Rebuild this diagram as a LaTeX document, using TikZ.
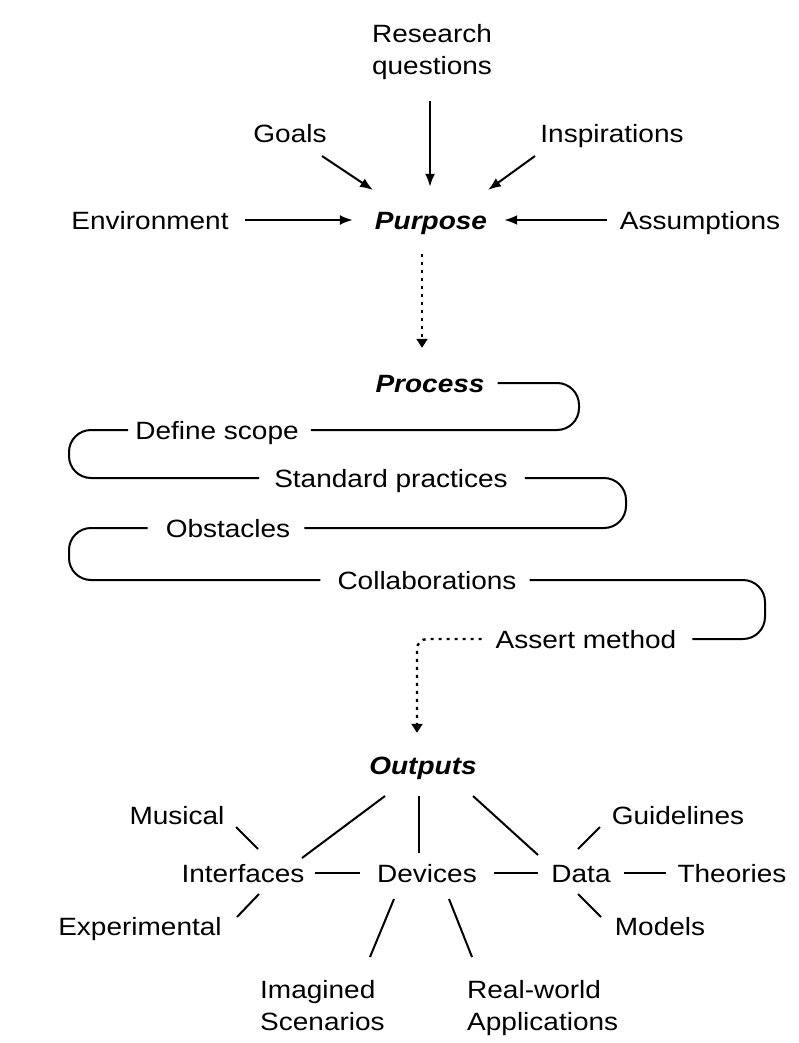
\documentclass[tikz,border=0pt]{standalone}
\usepackage{fontspec}
\setmainfont[FakeStretch=1.12]{Liberation Sans}
\usetikzlibrary{arrows.meta,calc}

\begin{document}
\begin{tikzpicture}[x=1pt,y=-1pt,
  lbl/.style={inner sep=0pt,text height=18pt,text depth=0pt,font=\fontsize{25}{31}\selectfont},
  mlbl/.style={inner sep=0pt,font=\fontsize{25}{32}\selectfont},
  key/.style={lbl,font=\fontsize{25}{31}\selectfont\bfseries\itshape},
  arr/.style={line width=2pt,-{Latex[length=13pt,width=10pt]}},
  dots/.style={line width=2.4pt,dash pattern=on 3pt off 5pt,-{Triangle[length=9pt,width=11pt]}},
  serp/.style={line width=2pt,rounded corners=22pt},
  link/.style={line width=2pt}]
\useasboundingbox (0,0) rectangle (799,1043);

% purpose
\node[mlbl,align=center,anchor=north] (rq) at (432,24) {Research\\questions};
\node[lbl] (goals) at (290,134) {Goals};
\node[lbl] (insp) at (612,134) {Inspirations};
\node[lbl] (env) at (150,220) {Environment};
\node[key] (purpose) at (431,220) {Purpose};
\node[lbl] (assump) at (700,220) {Assumptions};

\draw[arr] ([shift={(-2,21)}]rq.south) -- ([shift={(-1,-24)}]purpose.north);
\draw[arr] ([shift={(32,22)}]goals.center) -- ([shift={(-58,-30)}]purpose.center);
\draw[arr] ([shift={(-77,22)}]insp.center) -- ([shift={(57,-30)}]purpose.center);
\draw[arr] ([shift={(16,0)}]env.east) -- ([shift={(-22,0)}]purpose.west);
\draw[arr] ([shift={(-13,0)}]assump.west) -- ([shift={(17,0)}]purpose.east);

% process
\node[key] (process) at (430,383) {Process};
\node[lbl] (scope) at (217,430) {Define scope};
\node[lbl] (std) at (391,478) {Standard practices};
\node[lbl] (obst) at (228,528) {Obstacles};
\node[lbl] (collab) at (427,580) {Collaborations};
\node[lbl] (assert) at (586,639) {Assert method};

\draw[dots] ([shift={(-9,25)}]purpose.south) -- ([shift={(-8,-26)}]process.north);

\draw[serp] ([shift={(13,0)}]process.east) -| (579,430) -- ([shift={(12,0)}]scope.east);
\draw[serp] ([shift={(-7,0)}]scope.west) -| (69,478) -- ([shift={(-15,0)}]std.west);
\draw[serp] ([shift={(17,0)}]std.east) -| (626,528) -- ([shift={(14,0)}]obst.east);
\draw[serp] ([shift={(-18,0)}]obst.west) -| (69,580) -- ([shift={(-17,0)}]collab.west);
\draw[serp] ([shift={(13,0)}]collab.east) -| (765,639) -- ([shift={(16,0)}]assert.east);

% outputs
\node[key] (outputs) at (423,765) {Outputs};
\node[lbl] (musical) at (177,815) {Musical};
\node[lbl] (guide) at (678,815) {Guidelines};
\node[lbl] (interf) at (243,873) {Interfaces};
\node[lbl] (devices) at (427,873) {Devices};
\node[lbl] (data) at (581,873) {Data};
\node[lbl] (theories) at (732,873) {Theories};
\node[lbl] (exper) at (140,926) {Experimental};
\node[lbl] (models) at (660,926) {Models};
\node[mlbl,align=left,anchor=north west] (imag) at (260,980) {Imagined\\Scenarios};
\node[mlbl,align=left,anchor=north west] (real) at (467,980) {Real-world\\Applications};

\draw[dots,rounded corners=10pt] ([shift={(-14,0)}]assert.west) -| ([shift={(-6,-23)}]outputs.north);

\draw[link] ([shift={(-38,31)}]outputs.center) -- ([shift={(59,-15)}]interf.center);
\draw[link] ([shift={(-4,31)}]outputs.center) -- ([shift={(-8,-20)}]devices.center);
\draw[link] ([shift={(50,31)}]outputs.center) -- ([shift={(-43,-18)}]data.center);
\draw[link] ([shift={(59,12)}]musical.center) -- ([shift={(15,-24)}]interf.center);
\draw[link] ([shift={(-78,12)}]guide.center) -- ([shift={(-3,-24)}]data.center);
\draw[link] ([shift={(10,0)}]interf.east) -- ([shift={(-17,0)}]devices.west);
\draw[link] ([shift={(17,0)}]devices.east) -- ([shift={(-13,0)}]data.west);
\draw[link] ([shift={(13,0)}]data.east) -- ([shift={(-11,0)}]theories.west);
\draw[link] ([shift={(16,21)}]interf.center) -- ([shift={(97,-9)}]exper.center);
\draw[link] ([shift={(-3,21)}]data.center) -- ([shift={(-59,-9)}]models.center);
\draw[link] ([shift={(-33,26)}]devices.center) -- ([shift={(110,-23)}]imag.north west);
\draw[link] ([shift={(22,26)}]devices.center) -- ([shift={(5,-23)}]real.north west);
\end{tikzpicture}
\end{document}
